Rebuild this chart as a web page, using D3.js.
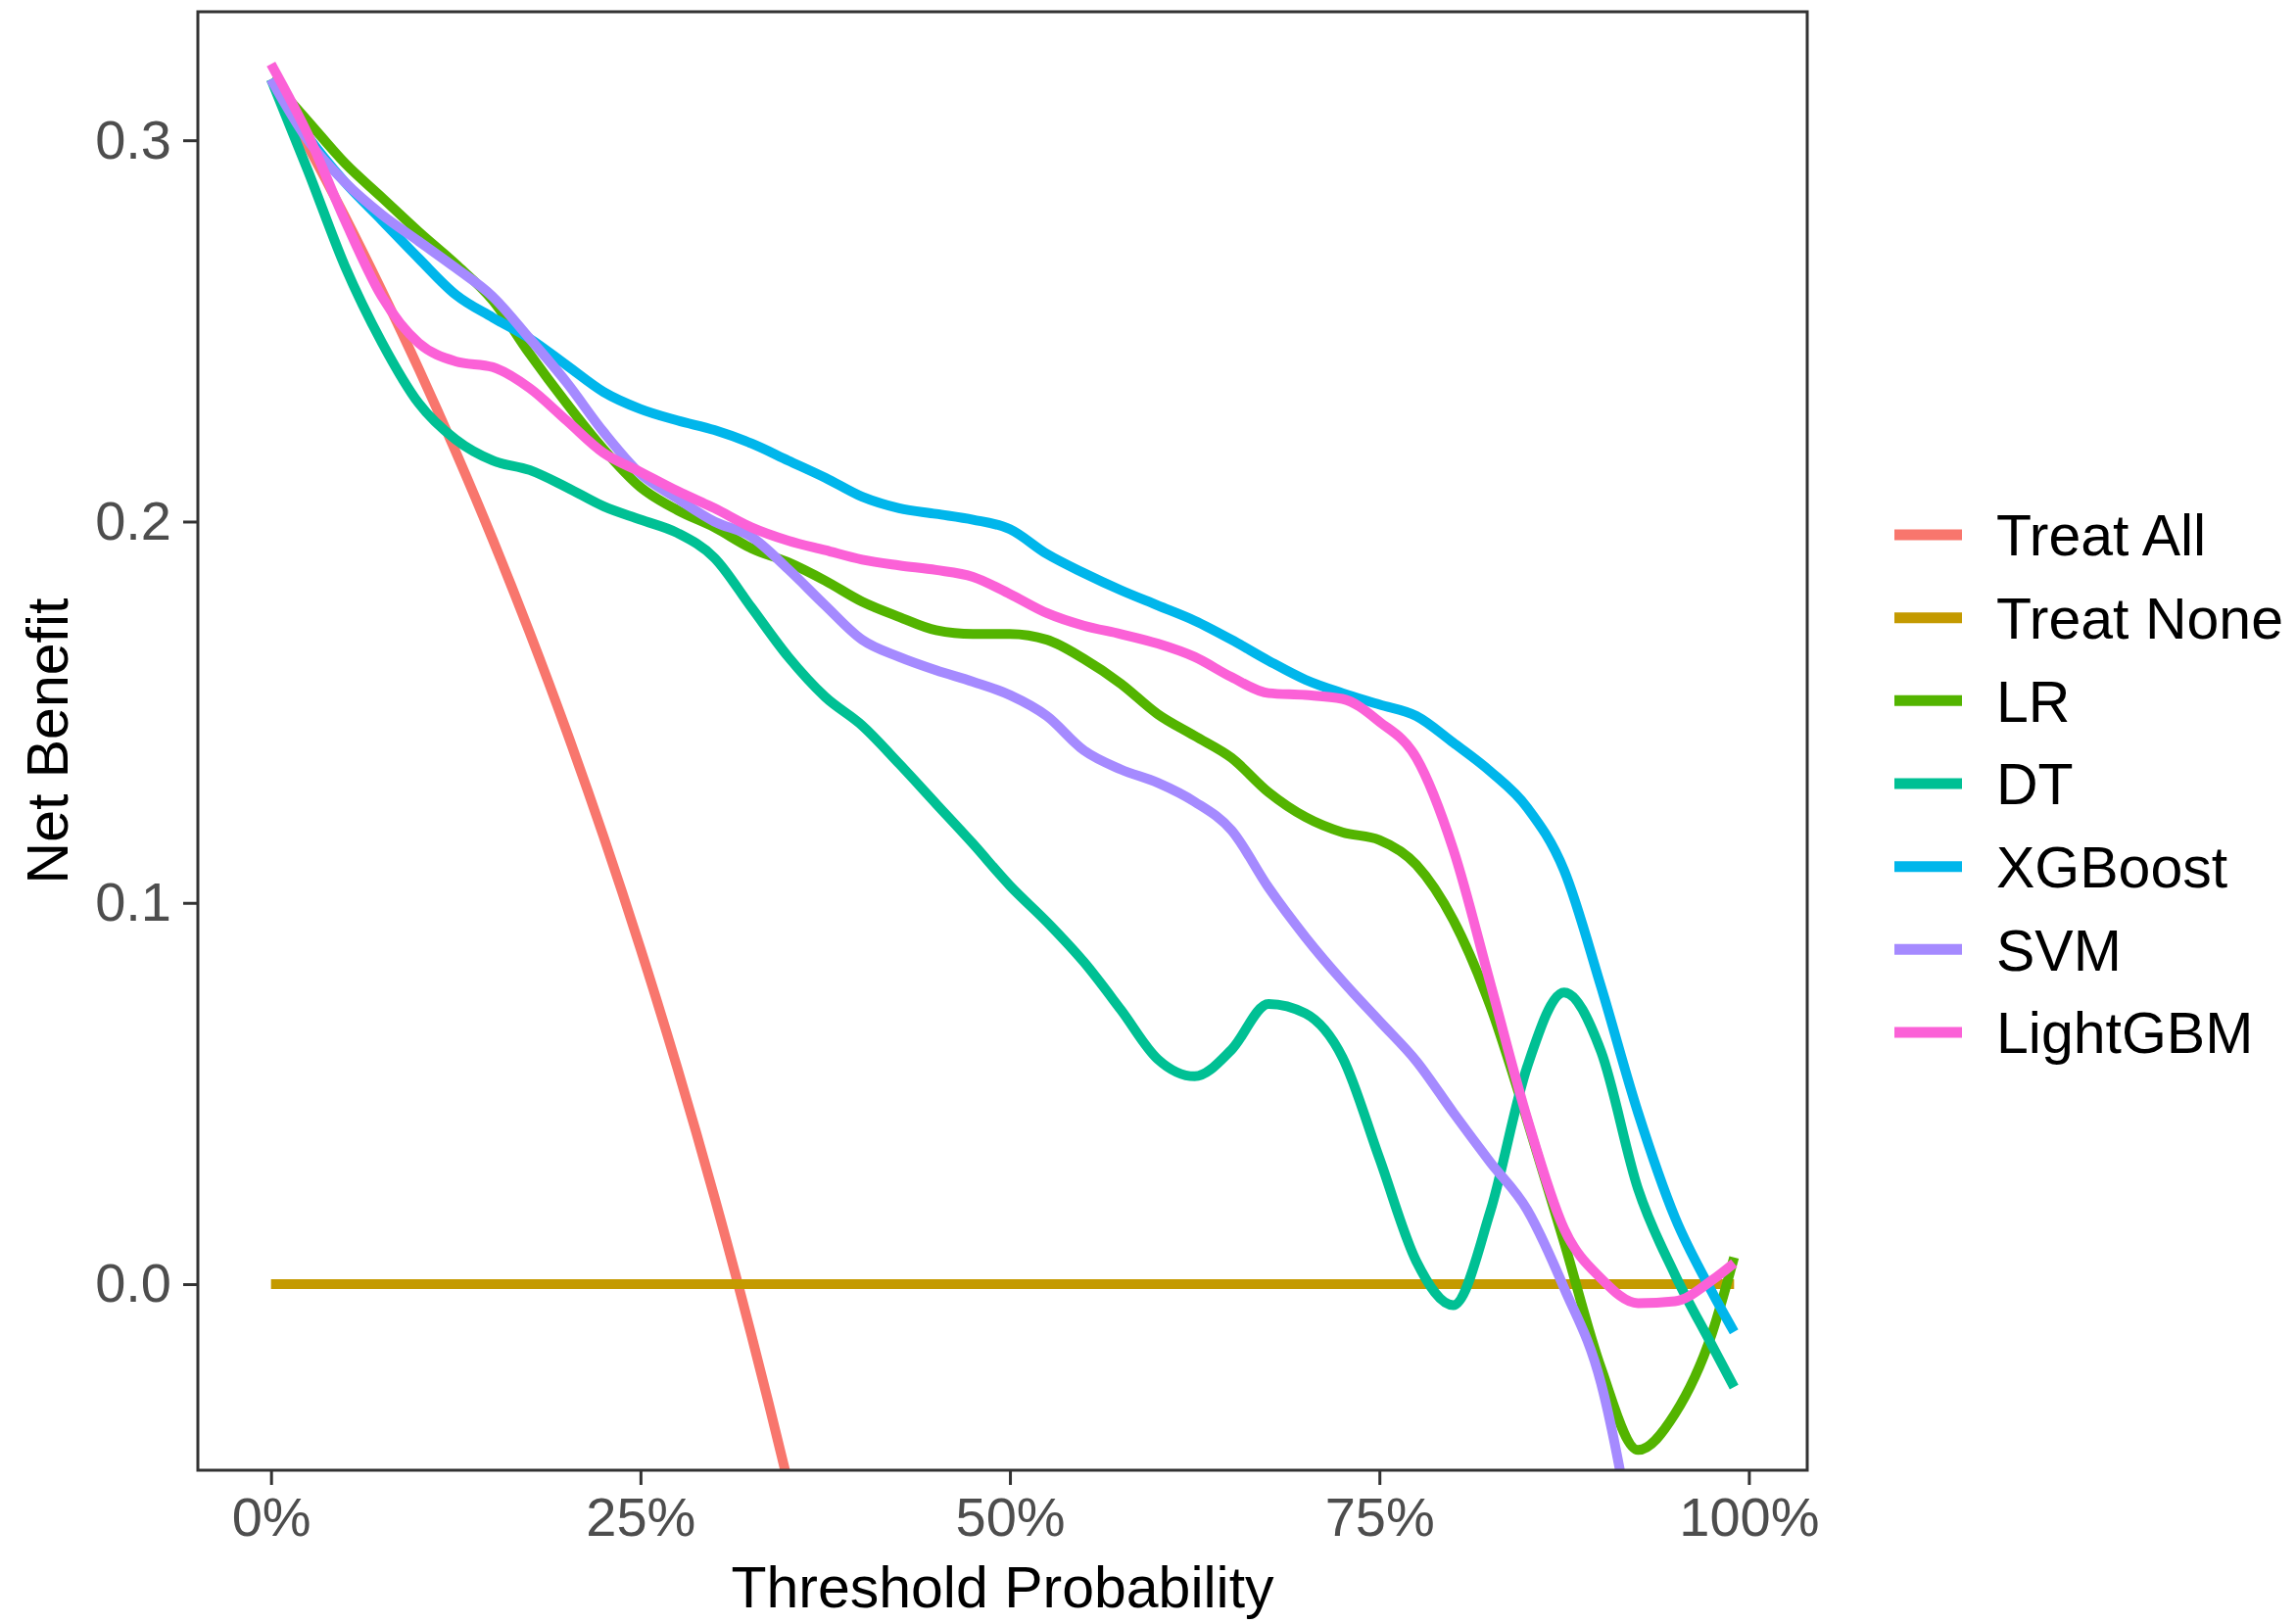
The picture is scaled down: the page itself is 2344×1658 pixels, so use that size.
<!DOCTYPE html>
<html>
<head>
<meta charset="utf-8">
<script src="https://cdn.jsdelivr.net/npm/d3@7"></script>
<style>
  html, body { margin: 0; padding: 0; background: #ffffff; }
  svg { display: block; }
</style>
</head>
<body>
<svg id="chart" width="2344" height="1658"></svg>
<script>
// ---------------- DATA ----------------
const thresholds = [0,0.025,0.05,0.075,0.1,0.125,0.15,0.175,0.2,0.225,0.25,0.275,0.3,0.325,0.35,0.375,0.4,0.425,0.45,0.475,0.5,0.525,0.55,0.575,0.6,0.625,0.65,0.675,0.7,0.725,0.75,0.775,0.8,0.825,0.85,0.875,0.9,0.925,0.95,0.975,0.99];

const seriesNames = ["Treat All","Treat None","LR","DT","XGBoost","SVM","LightGBM"];
const seriesColors = ["#F8766D","#C49A00","#53B400","#00C094","#00B6EB","#A58AFF","#FB61D7"];

const treatAll = [0.316,0.2985,0.280,0.2605,0.240,0.2183,0.1953,0.1709,0.145,0.1174,0.088,0.0566,0.0229,-0.0133,-0.0523,-0.0944,-0.140,null,null,null,null,null,null,null,null,null,null,null,null,null,null,null,null,null,null,null,null,null,null,null,null];
const treatNone = [0,0,0,0,0,0,0,0,0,0,0,0,0,0,0,0,0,0,0,0,0,0,0,0,0,0,0,0,0,0,0,0,0,0,0,0,0,0,0,0,0];
const lr = [0.316,0.305,0.294,0.285,0.276,0.2675,0.258,0.244,0.231,0.219,0.209,0.203,0.1985,0.193,0.1893,0.1845,0.179,0.175,0.1715,0.1705,0.1705,0.169,0.164,0.1575,0.1495,0.1438,0.138,0.129,0.1225,0.1185,0.1165,0.110,0.0955,0.073,0.043,0.011,-0.022,-0.0435,-0.034,-0.013,0.007];
const dt = [0.316,0.292,0.267,0.247,0.231,0.2215,0.216,0.2135,0.209,0.204,0.2005,0.197,0.1905,0.1775,0.1645,0.154,0.1465,0.1365,0.126,0.1155,0.1045,0.095,0.0845,0.072,0.059,0.0545,0.0615,0.0735,0.071,0.0595,0.033,0.006,-0.0055,0.019,0.057,0.0765,0.061,0.025,0.0025,-0.016,-0.027];
const xgboost = [0.316,0.301,0.289,0.279,0.269,0.2595,0.2535,0.248,0.241,0.234,0.2295,0.2265,0.224,0.2205,0.216,0.2115,0.2065,0.2035,0.202,0.2005,0.198,0.1915,0.1865,0.182,0.178,0.174,0.169,0.1635,0.1585,0.155,0.152,0.149,0.142,0.1345,0.125,0.1085,0.078,0.045,0.0175,-0.002,-0.0125];
const svm = [0.316,0.300,0.289,0.2805,0.2735,0.2665,0.259,0.248,0.2365,0.2235,0.2125,0.206,0.2,0.196,0.1875,0.178,0.169,0.1645,0.161,0.158,0.1545,0.149,0.140,0.135,0.1315,0.1265,0.119,0.104,0.091,0.0795,0.069,0.0585,0.045,0.032,0.0195,-0.001,-0.026,-0.075,null,null,null];
const lightgbm = [0.320,0.3015,0.279,0.259,0.2468,0.242,0.2405,0.235,0.2265,0.218,0.213,0.208,0.2035,0.1985,0.195,0.1925,0.19,0.1885,0.1873,0.1855,0.181,0.176,0.1727,0.1705,0.168,0.1645,0.1592,0.155,0.1545,0.1535,0.1475,0.138,0.114,0.079,0.0435,0.0145,0.0015,-0.005,-0.0045,0.001,0.0055];

const xTickValues = [0, 0.25, 0.5, 0.75, 1];
const xTickLabels = ["0%","25%","50%","75%","100%"];
const yTickValues = [0, 0.1, 0.2, 0.3];
const yTickLabels = ["0.0","0.1","0.2","0.3"];

const xTitle = "Threshold Probability";
const yTitle = "Net Benefit";

const seriesValues = [treatAll, treatNone, lr, dt, xgboost, svm, lightgbm];

// ---------------- LAYOUT ----------------
const panel = { left: 202, right: 1845, top: 12, bottom: 1501 };
const FONT = "'Liberation Sans', Arial, Helvetica, sans-serif";
const tickFont = 56, titleFont = 59, legendFont = 59;
const lineW = 10;

const svg = d3.select("#chart");

const x = d3.scaleLinear().domain([-0.0495, 1.0395]).range([panel.left, panel.right]);
const y = d3.scaleLinear().domain([-0.0488, 0.3337]).range([panel.bottom, panel.top]);

svg.append("defs").append("clipPath").attr("id", "clip")
  .append("rect")
  .attr("x", panel.left).attr("y", panel.top)
  .attr("width", panel.right - panel.left).attr("height", panel.bottom - panel.top);

// panel background
svg.append("rect")
  .attr("x", panel.left).attr("y", panel.top)
  .attr("width", panel.right - panel.left).attr("height", panel.bottom - panel.top)
  .attr("fill", "#ffffff");

// lines
const line = d3.line()
  .defined(d => d.v !== null)
  .x(d => x(d.t))
  .y(d => y(d.v))
  .curve(d3.curveMonotoneX);

const gLines = svg.append("g").attr("clip-path", "url(#clip)");
seriesValues.forEach((vals, i) => {
  const pts = thresholds.map((t, j) => ({ t: t, v: vals[j] }));
  gLines.append("path")
    .datum(pts)
    .attr("d", line)
    .attr("fill", "none")
    .attr("stroke", seriesColors[i])
    .attr("stroke-width", lineW)
    .attr("stroke-linejoin", "round")
    .attr("stroke-linecap", "butt");
});

// panel border
svg.append("rect")
  .attr("x", panel.left).attr("y", panel.top)
  .attr("width", panel.right - panel.left).attr("height", panel.bottom - panel.top)
  .attr("fill", "none")
  .attr("stroke", "#333333")
  .attr("stroke-width", 3);

// axes
const xAxis = d3.axisBottom(x).tickValues(xTickValues)
  .tickFormat((d, i) => xTickLabels[i]).tickSize(15).tickPadding(12);
const gx = svg.append("g").attr("transform", `translate(0,${panel.bottom})`).call(xAxis);
gx.select(".domain").remove();
gx.selectAll(".tick line").attr("stroke", "#333333").attr("stroke-width", 3);
gx.selectAll(".tick text")
  .attr("fill", "#4D4D4D")
  .style("font-family", FONT)
  .style("font-size", tickFont + "px");

const yAxis = d3.axisLeft(y).tickValues(yTickValues)
  .tickFormat((d, i) => yTickLabels[i]).tickSize(15).tickPadding(12);
const gy = svg.append("g").attr("transform", `translate(${panel.left},0)`).call(yAxis);
gy.select(".domain").remove();
gy.selectAll(".tick line").attr("stroke", "#333333").attr("stroke-width", 3);
gy.selectAll(".tick text")
  .attr("fill", "#4D4D4D")
  .style("font-family", FONT)
  .style("font-size", tickFont + "px");

// axis titles
svg.append("text")
  .attr("x", (panel.left + panel.right) / 2)
  .attr("y", 1641)
  .attr("text-anchor", "middle")
  .attr("fill", "#000000")
  .style("font-family", FONT)
  .style("font-size", titleFont + "px")
  .text(xTitle);

svg.append("text")
  .attr("transform", `translate(69,${(panel.top + panel.bottom) / 2}) rotate(-90)`)
  .attr("text-anchor", "middle")
  .attr("fill", "#000000")
  .style("font-family", FONT)
  .style("font-size", titleFont + "px")
  .text(yTitle);

// legend
const legendY = d3.scalePoint().domain(seriesNames).range([546, 1054]);
const gLeg = svg.append("g");
seriesNames.forEach((name, i) => {
  const cy = legendY(name);
  gLeg.append("line")
    .attr("x1", 1934).attr("x2", 2003)
    .attr("y1", cy).attr("y2", cy)
    .attr("stroke", seriesColors[i])
    .attr("stroke-width", lineW + 1);
  gLeg.append("text")
    .attr("x", 2038).attr("y", cy)
    .attr("dy", "0.36em")
    .attr("fill", "#000000")
    .style("font-family", FONT)
    .style("font-size", legendFont + "px")
    .text(name);
});
</script>
</body>
</html>
